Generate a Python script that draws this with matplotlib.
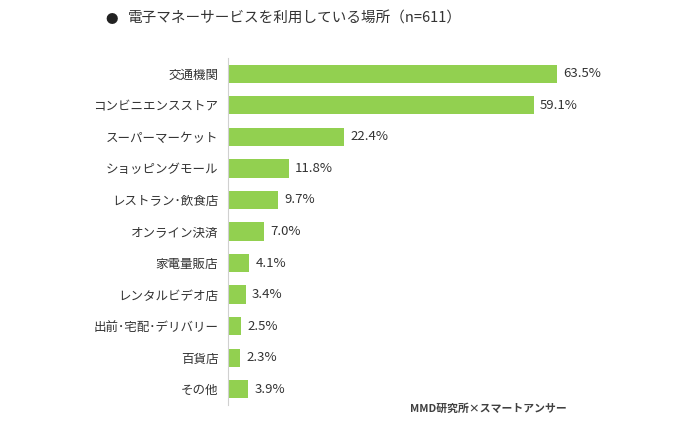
import matplotlib.pyplot as plt

plt.rcParams['font.family'] = ['Noto Sans CJK JP', 'DejaVu Sans']

# data
categories = ["交通機関", "コンビニエンスストア", "スーパーマーケット", "ショッピングモール",
              "レストラン･飲食店", "オンライン決済", "家電量販店", "レンタルビデオ店",
              "出前･宅配･デリバリー", "百貨店", "その他"]
values = [63.5, 59.1, 22.4, 11.8, 9.7, 7.0, 4.1, 3.4, 2.5, 2.3, 3.9]

fig = plt.figure(figsize=(7, 4.3), dpi=100)
ax = fig.add_axes([228 / 700, 1 - 405 / 430, 414 / 700, 347 / 430])

ypos = list(range(len(categories)))
ax.barh(ypos, values, height=0.58, color="#92D050")
ax.set_ylim(len(categories) - 0.5, -0.5)
ax.set_xlim(0, 80)

for y, v in zip(ypos, values):
    ax.text(v + 1.2, y, f"{v:.1f}%", va="center", ha="left", fontsize=9.5, color="#333333")

ax.set_yticks(ypos)
ax.set_yticklabels(categories, fontsize=9, color="#333333")
ax.tick_params(axis="y", length=0, pad=7)
ax.set_xticks([])
for s in ["top", "right", "bottom"]:
    ax.spines[s].set_visible(False)
ax.spines["left"].set_color("#d0d0d0")

fig.text(105 / 700, 1 - 19 / 430, "●", fontsize=9, color="#222222", va="center")
fig.text(128 / 700, 1 - 19 / 430, "電子マネーサービスを利用している場所（n=611）",
         fontsize=10.5, color="#333333", va="center")
fig.text(410 / 700, 1 - 409 / 430, "MMD研究所×スマートアンサー",
         fontsize=7.8, fontweight="bold", color="#404040", va="center")

fig.savefig("out.png", dpi=100, facecolor="white")
